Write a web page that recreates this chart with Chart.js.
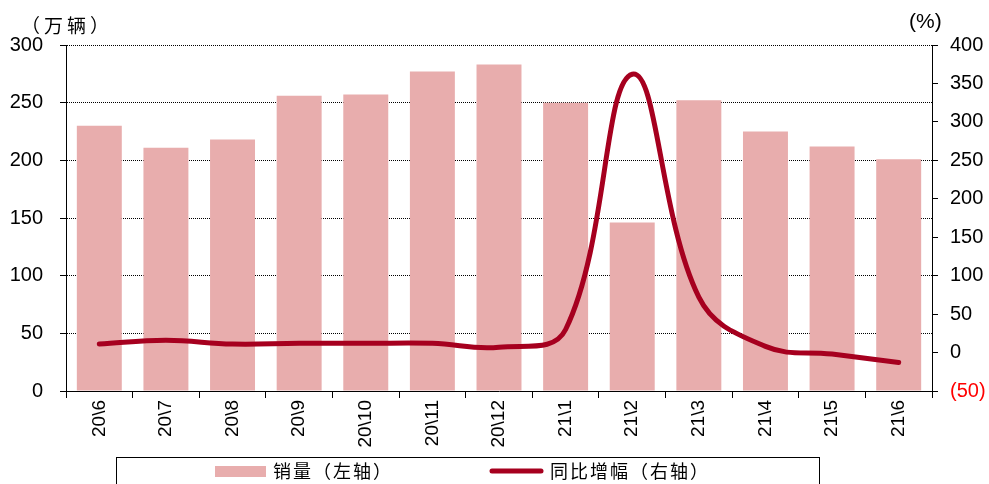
<!DOCTYPE html>
<html>
<head>
<meta charset="utf-8">
<script src="https://cdn.jsdelivr.net/npm/chart.js@4"></script>
<style>
  html, body { margin: 0; padding: 0; background: #fff; }
  #wrap { width: 989px; height: 484px; position: relative; }
</style>
</head>
<body>
<div id="wrap"><canvas id="salesChart" width="989" height="484"></canvas></div>
<script>
// monthly labels, written the way the source shows them
const months = ['20\\6', '20\\7', '20\\8', '20\\9', '20\\10', '20\\11', '20\\12',
                '21\\1', '21\\2', '21\\3', '21\\4', '21\\5', '21\\6'];
// sales, 10k vehicles (left axis)
const sales = [230, 211, 218, 256, 257, 277, 283, 250, 146, 252, 225, 212, 201];
// yoy growth, % (right axis)
const yoyGrowth = [11, 16, 11, 12, 12, 12, 7, 30, 362, 72, 8, -2, -13];

const barColor = '#e8adad';
const lineColor = '#a6001f';
const numFont = "'Liberation Sans Narrow', 'Arial Narrow', 'Liberation Sans', sans-serif";
const cjkFont = "'Noto Sans CJK SC', sans-serif";

// axis captions and the boxed legend
const decorPlugin = {
    id: 'decor',
    afterDraw(chart) {
        const ctx = chart.ctx;
        ctx.save();
        ctx.fillStyle = '#000';
        ctx.textBaseline = 'middle';
        ctx.font = '19px ' + cjkFont;
        ctx.letterSpacing = '4px';
        ctx.fillText('（万辆）', 21, 26);
        ctx.letterSpacing = '0px';
        ctx.font = '21px ' + numFont;
        ctx.fillText('(%)', 909, 22);

        // legend frame
        ctx.strokeStyle = '#000';
        ctx.lineWidth = 1;
        ctx.strokeRect(116.5, 457.5, 703, 40);

        const ds = chart.data.datasets;
        ctx.fillStyle = barColor;
        ctx.fillRect(215, 466, 51, 11);
        ctx.beginPath();
        ctx.strokeStyle = lineColor;
        ctx.lineWidth = 5;
        ctx.lineCap = 'round';
        ctx.moveTo(492, 471);
        ctx.lineTo(541, 471);
        ctx.stroke();

        ctx.fillStyle = '#000';
        ctx.font = '18px ' + cjkFont;
        ctx.letterSpacing = '2px';
        ctx.fillText(ds[0].label, 273, 471);
        ctx.fillText(ds[1].label, 550, 471);
        ctx.restore();
    }
};

new Chart(document.getElementById('salesChart'), {
    data: {
        labels: months,
        datasets: [{
            type: 'bar',
            label: '销量（左轴）',
            data: sales,
            backgroundColor: barColor,
            yAxisID: 'y',
            barPercentage: 0.675,
            categoryPercentage: 1,
            order: 1
        }, {
            type: 'line',
            label: '同比增幅（右轴）',
            data: yoyGrowth,
            borderColor: lineColor,
            borderWidth: 5,
            borderCapStyle: 'round',
            pointRadius: 0,
            tension: 0.4,
            yAxisID: 'y1',
            order: 0
        }]
    },
    options: {
        responsive: false,
        animation: false,
        devicePixelRatio: 1,
        layout: {
            padding: { top: 45, left: 0, right: 0, bottom: 33 }
        },
        plugins: {
            legend: { display: false },
            tooltip: { enabled: false }
        },
        scales: {
            x: {
                grid: {
                    offset: true,
                    drawOnChartArea: false,
                    tickLength: 7,
                    tickColor: '#000'
                },
                border: { color: '#000', width: 1 },
                ticks: {
                    minRotation: 90,
                    maxRotation: 90,
                    autoSkip: false,
                    padding: 2,
                    color: '#000',
                    font: { family: numFont, size: 19 }
                },
                afterFit(scale) { scale.height = 60; }
            },
            y: {
                position: 'left',
                min: 0,
                max: 300,
                ticks: {
                    stepSize: 50,
                    padding: 17,
                    color: '#000',
                    font: { family: numFont, size: 20 }
                },
                grid: {
                    color: ctx => ctx.tick && ctx.tick.value === 0 ? 'rgba(0,0,0,0)' : '#000',
                    lineWidth: 1,
                    tickLength: 6,
                    tickColor: '#000',
                    tickBorderDash: []
                },
                border: { color: '#000', width: 1, dash: [1, 1] },
                afterFit(scale) { scale.width = 66; }
            },
            y1: {
                position: 'right',
                min: -50,
                max: 400,
                ticks: {
                    stepSize: 50,
                    padding: 12,
                    color: ctx => ctx.tick.value < 0 ? '#ff0000' : '#000',
                    font: { family: numFont, size: 20 },
                    callback: v => v < 0 ? '(' + (-v) + ')' : v
                },
                grid: {
                    drawOnChartArea: false,
                    tickLength: 6,
                    tickColor: '#000'
                },
                border: { color: '#000', width: 1 },
                afterFit(scale) { scale.width = 57; }
            }
        }
    },
    plugins: [decorPlugin]
});
</script>
</body>
</html>
